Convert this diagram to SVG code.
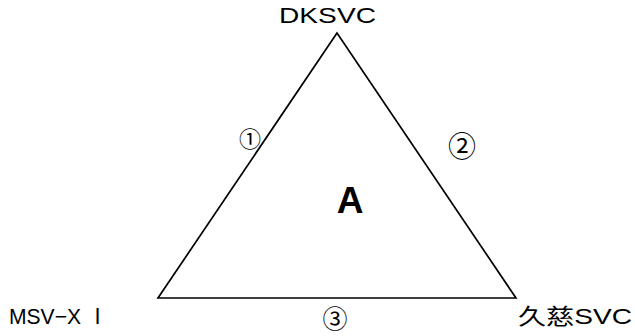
<svg xmlns="http://www.w3.org/2000/svg" width="635" height="336" viewBox="0 0 635 336">
<style>
.lbl{font-family:"Liberation Sans","Noto Sans CJK JP",sans-serif;font-size:22px;fill:#000}
.num{font-family:"Noto Sans CJK JP","DejaVu Sans",sans-serif;fill:#000;text-anchor:middle}
.big{font-family:"Liberation Sans",sans-serif;font-weight:bold;font-size:37px;fill:#000;text-anchor:middle}
.edge{fill:none;stroke:#000;stroke-width:1.7}
</style>
<rect width="635" height="336" fill="#fff"/>
<g id="connectors">
<polygon class="edge" points="337,33 158,298 516,298"/>
</g>
<g id="node-dksvc"><text class="lbl" x="279" y="23" textLength="97" lengthAdjust="spacingAndGlyphs">DKSVC</text></g>
<g id="node-msvx"><text class="lbl" x="9" y="324" textLength="99" lengthAdjust="spacingAndGlyphs">MSV−X Ⅰ</text></g>
<g id="node-kuji"><text class="lbl" x="518" y="324" textLength="114" lengthAdjust="spacingAndGlyphs">久慈SVC</text></g>
<g id="label-1"><text class="num" x="250" y="147" font-size="22">①</text></g>
<g id="label-2"><text class="num" x="462" y="157" font-size="28">②</text></g>
<g id="label-3"><text class="num" x="335" y="328" font-size="25">③</text></g>
<g id="label-A"><text class="big" x="350" y="213">A</text></g>
</svg>
